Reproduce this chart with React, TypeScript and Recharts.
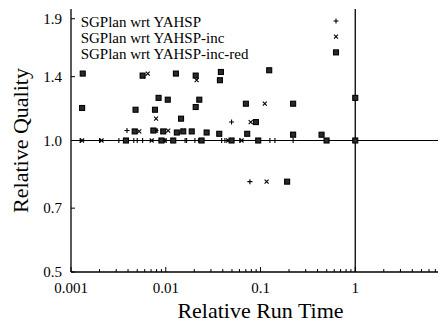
import { ScatterChart, Scatter, XAxis, YAxis, ReferenceLine, Legend } from 'recharts';

// relative run time / relative quality, one pair of arrays per comparison
const yahspTime = [
  0.00125, 0.002, 0.0032, 0.0039, 0.0039, 0.0046, 0.005, 0.0057, 0.0074, 0.0079, 0.0087, 0.0098,
  0.016, 0.0166, 0.0203, 0.0389, 0.0421, 0.0495, 0.0495, 0.0606, 0.0773, 0.1256, 0.142, 0.218, 0.221,
];
const yahspQuality = [
  1.0, 1.0, 1.0, 1.054, 1.0, 1.0, 1.0, 1.0, 1.054, 1.054, 1.0, 1.0,
  1.0, 1.0, 1.0, 1.0, 1.0, 1.102, 1.0, 1.0, 0.805, 1.0, 1.0, 1.031, 1.0,
];

const incTime = [
  0.00131, 0.0021, 0.00525, 0.0057, 0.00646, 0.0071, 0.0079, 0.0079, 0.0098, 0.0106, 0.0153,
  0.0212, 0.023, 0.0456, 0.0631, 0.0787, 0.111, 0.116, 0.218,
];
const incQuality = [
  1.0, 1.0, 1.049, 1.4, 1.423, 1.0, 1.054, 1.122, 1.0, 1.054, 1.054,
  1.374, 1.0, 1.0, 1.0, 1.102, 1.214, 0.805, 1.036,
];

const redTime = [
  0.00133, 0.00131, 0.0038, 0.0047, 0.0048, 0.0057, 0.0074, 0.0077, 0.0084, 0.009, 0.0094, 0.0105,
  0.012, 0.0128, 0.0131, 0.0145, 0.0153, 0.0188, 0.0207, 0.0207, 0.0226, 0.0239, 0.027, 0.0367,
  0.0382, 0.0373, 0.0495, 0.0701, 0.0724, 0.0894, 0.0946, 0.1236, 0.191, 0.221, 0.221, 0.441,
  0.498, 1.0, 1.0,
];
const redQuality = [
  1.423, 1.187, 1.0, 1.049, 1.176, 1.408, 1.054, 1.176, 1.252, 1.0, 1.049, 1.24,
  1.0, 1.423, 1.043, 1.122, 1.049, 1.049, 1.408, 1.193, 1.24, 1.0, 1.043, 1.036,
  1.435, 1.374, 1.0, 1.214, 1.036, 1.102, 1.0, 1.448, 0.805, 1.214, 1.031, 1.031,
  1.0, 1.0, 1.252,
];

const seriesNames = ['SGPlan wrt YAHSP', 'SGPlan wrt YAHSP-inc', 'SGPlan wrt YAHSP-inc-red'];

const xMajor = [0.001, 0.01, 0.1, 1, 10];
const xLabels = ['0.001', '0.01', '0.1', '1', '10'];
const xMinor = xMajor.slice(0, -1).flatMap((d) => [2, 3, 4, 5, 6, 7, 8, 9].map((k) => d * k));
const yTicks = [0.5, 0.7, 1.0, 1.4, 1.9];
const yLabels = ['0.5', '0.7', '1.0', '1.4', '1.9'];

const FONT = "'Liberation Serif', 'Times New Roman', Times, serif";

const toPoints = (t: number[], q: number[]) => t.map((time, i) => ({ time, quality: q[i] }));

const yahsp = toPoints(yahspTime, yahspQuality);
const inc = toPoints(incTime, incQuality);
const red = toPoints(redTime, redQuality);

const Plus = ({ cx, cy }: any) => (
  <path d={`M${cx - 2.5},${cy}h5M${cx},${cy - 2.5}v5`} stroke="#000" strokeWidth={1.1} fill="none" />
);
const Cross = ({ cx, cy }: any) => (
  <path d={`M${cx - 2},${cy - 2}l4,4M${cx - 2},${cy + 2}l4,-4`} stroke="#000" strokeWidth={1.1} fill="none" />
);
const Box = ({ cx, cy }: any) => (
  <g>
    <rect x={cx - 2.5} y={cy - 2.5} width={5} height={5} fill="#2a2a2a" stroke="#000" strokeWidth={1.1} />
  </g>
);

const XTick = (props: any) => {
  const { x, y, payload, side } = props;
  const i = xMajor.indexOf(payload.value);
  const len = i >= 0 ? 5 : 3;
  const dir = side === 'top' ? 1 : -1;
  return (
    <g>
      <line x1={x} x2={x} y1={y} y2={y + dir * len} stroke="#000" />
      {side !== 'top' && i >= 0 && (
        <text x={x} y={y + 21} textAnchor="middle" fontFamily={FONT} fontSize={15} fill="#000">
          {xLabels[i]}
        </text>
      )}
    </g>
  );
};

const YTick = (props: any) => {
  const { x, y, payload } = props;
  const i = yTicks.indexOf(payload.value);
  return (
    <g>
      <line x1={x} x2={x + 4} y1={y} y2={y} stroke="#000" />
      <text x={x - 9} y={y + 5} textAnchor="end" fontFamily={FONT} fontSize={15} fill="#000">
        {yLabels[i]}
      </text>
    </g>
  );
};

const XTitle = ({ viewBox }: any) => (
  <text
    x={viewBox.x + viewBox.width / 2}
    y={viewBox.y + 46}
    textAnchor="middle"
    fontFamily={FONT}
    fontSize={22}
    fill="#000"
  >
    Relative Run Time
  </text>
);

const YTitle = ({ viewBox }: any) => (
  <text
    transform={`translate(20, ${viewBox.y + viewBox.height / 2}) rotate(-90)`}
    textAnchor="middle"
    fontFamily={FONT}
    fontSize={22}
    fill="#000"
  >
    Relative Quality
  </text>
);

const markers = [Plus, Cross, Box];

const renderLegend = () => (
  <svg width={360} height={60}>
    {seriesNames.map((name, i) => {
      const Marker = markers[i];
      return (
        <g key={name}>
          <text x={72.7} y={19 + i * 16} fontFamily={FONT} fontSize={15} fill="#000">
            {name}
          </text>
          <Marker cx={328} cy={13 + i * 15.7} />
        </g>
      );
    })}
  </svg>
);

export default function App() {
  return (
    <div>
      <style>{'body{overflow:hidden}'}</style>
      <ScatterChart width={460} height={314} margin={{ top: 1, right: 18, bottom: 0, left: 0 }}>
        <XAxis
          dataKey="time"
          type="number"
          scale="log"
          domain={[0.001, 10]}
          allowDataOverflow
          ticks={[...xMajor, ...xMinor]}
          interval={0}
          tickSize={0}
          tickMargin={0}
          tickLine={false}
          tick={<XTick side="bottom" />}
          axisLine={{ stroke: '#000', strokeWidth: 1.3 }}
          height={50}
          label={<XTitle />}
        />
        <XAxis
          xAxisId="top"
          orientation="top"
          type="number"
          scale="log"
          domain={[0.001, 10]}
          allowDataOverflow
          ticks={[...xMajor, ...xMinor]}
          interval={0}
          tickSize={0}
          tickMargin={0}
          tickLine={false}
          tick={<XTick side="top" />}
          axisLine={{ stroke: '#000', strokeWidth: 1.3 }}
          height={0}
        />
        <YAxis
          dataKey="quality"
          type="number"
          scale="log"
          domain={[0.5, 2]}
          allowDataOverflow
          ticks={yTicks}
          interval={0}
          tickSize={0}
          tickMargin={0}
          tickLine={false}
          tick={<YTick />}
          axisLine={{ stroke: '#000', strokeWidth: 1.3 }}
          width={63}
          label={<YTitle />}
        />
        <ReferenceLine y={1} stroke="#000" strokeWidth={1} />
        <ReferenceLine x={1} stroke="#000" strokeWidth={1.3} />
        <Legend
          layout="vertical"
          align="center"
          verticalAlign="middle"
          wrapperStyle={{ left: 0, top: 0, width: 360, height: 60 }}
          content={renderLegend}
        />
        <Scatter name={seriesNames[0]} data={yahsp} shape={<Plus />} isAnimationActive={false} />
        <Scatter name={seriesNames[1]} data={inc} shape={<Cross />} isAnimationActive={false} />
        <Scatter name={seriesNames[2]} data={red} shape={<Box />} isAnimationActive={false} />
      </ScatterChart>
    </div>
  );
}
